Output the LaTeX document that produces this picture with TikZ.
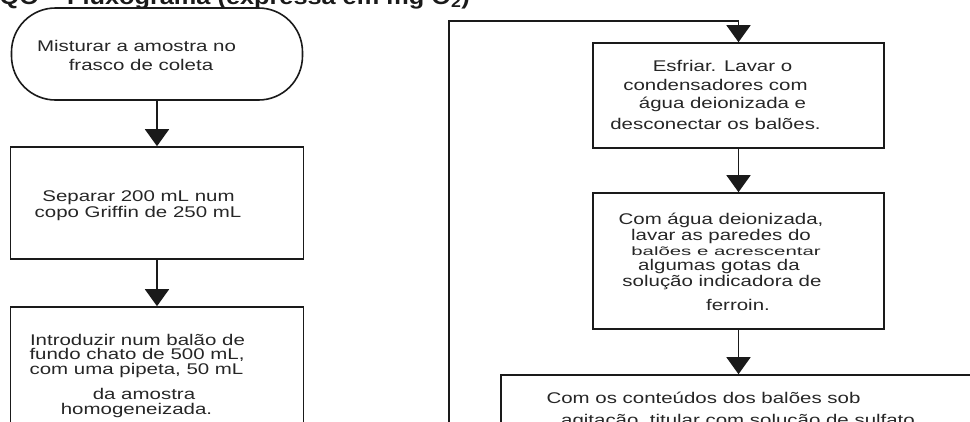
\documentclass[tikz,border=0pt]{standalone}
\usepackage{fontspec}
\setmainfont{Liberation Sans}
\newfontfamily\bodyfont[FakeStretch=1.32]{Liberation Sans}
\newfontfamily\narrowfont[FakeStretch=1.7]{Liberation Sans}
\newfontfamily\titlefont[FakeStretch=1.15]{Liberation Sans}
\usetikzlibrary{arrows.meta}
\definecolor{ink}{HTML}{1A1A1A}
\definecolor{txtc}{HTML}{262626}
\begin{document}
\begin{tikzpicture}[x=1pt,y=-1pt,
  flow/.style={draw=ink,line width=1.6pt,-{Triangle[width=24pt,length=17pt]}},
  box/.style={draw=ink,line width=1.6pt,rectangle,inner sep=0pt},
  term/.style={box,rounded corners=44pt},
  txt/.style={text=txtc,inner sep=0pt,anchor=base,font=\bodyfont\fontsize{15.5}{18}\selectfont},
  smalltxt/.style={txt,font=\narrowfont\fontsize{12}{14}\selectfont},
  titletxt/.style={text=ink,inner sep=0pt,anchor=base east,font=\titlefont\bfseries\fontsize{22}{26}\selectfont}
]
\useasboundingbox (0,0) rectangle (970,421);
\clip (0,0) rectangle (970,421);

% title (cut off at the top edge)
\node[titletxt] (title) at (470,4) {DQO – Fluxograma (expressa em mg O\textsubscript{2})};

% left column
\node[term,minimum width=291pt,minimum height=92pt] (T) at (157,54) {};
\node[box,minimum width=293pt,minimum height=112pt] (B2) at (157,203) {};
\node[box,minimum width=293pt,minimum height=150pt] (B3) at (157,382) {};

% right column
\node[box,minimum width=291pt,minimum height=105pt] (R1) at (738.5,95.5) {};
\node[box,minimum width=291pt,minimum height=136pt] (R2) at (738.5,261) {};
\node[box,minimum width=475pt,minimum height=150pt] (R3) at (738.5,450) {};

% connectors
\draw[flow] (T.south) -- (B2.north);
\draw[flow] (B2.south) -- (B3.north);
\coordinate (loopfoot) at (449,440);
\coordinate (loopcorner) at (738.5,21);
\draw[flow] (loopfoot) |- (loopcorner) -- (R1.north);
\draw[flow] (R1.south) -- (R2.north);
\draw[flow] (R2.south) -- (R3.north);

% texts
\node[txt] (t1a) at (136.5,51.7) {Misturar a amostra no};
\node[txt] (t1b) at (141,70) {frasco de coleta};

\node[txt] (t2a) at (138.5,201) {Separar 200 mL num};
\node[txt] (t2b) at (138,217.7) {copo Griffin de 250 mL};

\node[txt] (t3a) at (137.5,345) {Introduzir num balão de};
\node[txt] (t3b) at (137,359.5) {fundo chato de 500 mL,};
\node[txt] (t3c) at (136.5,374.5) {com uma pipeta, 50 mL};
\node[txt] (t3d) at (144,399.3) {da amostra};
\node[txt] (t3e) at (136.5,414) {homogeneizada.};

\node[txt] (r1a) at (722.5,71.7) {Esfriar. Lavar o};
\node[txt] (r1b) at (715.5,90.7) {condensadores com};
\node[txt] (r1c) at (722.5,108.3) {água deionizada e};
\node[txt] (r1d) at (715.5,129) {desconectar os balões.};

\node[txt] (r2a) at (721,224) {Com água deionizada,};
\node[txt] (r2b) at (721,240) {lavar as paredes do};
\node[smalltxt] (r2c) at (726,255) {balões e acrescentar};
\node[txt] (r2d) at (719,270.5) {algumas gotas da};
\node[txt] (r2e) at (722,286.7) {solução indicadora de};
\node[txt] (r2f) at (738,310) {ferroin.};

\node[txt] (r3a) at (703.5,403) {Com os conteúdos dos balões sob};
\node[txt] (r3b) at (738,425) {agitação, titular com solução de sulfato};
\end{tikzpicture}
\end{document}
